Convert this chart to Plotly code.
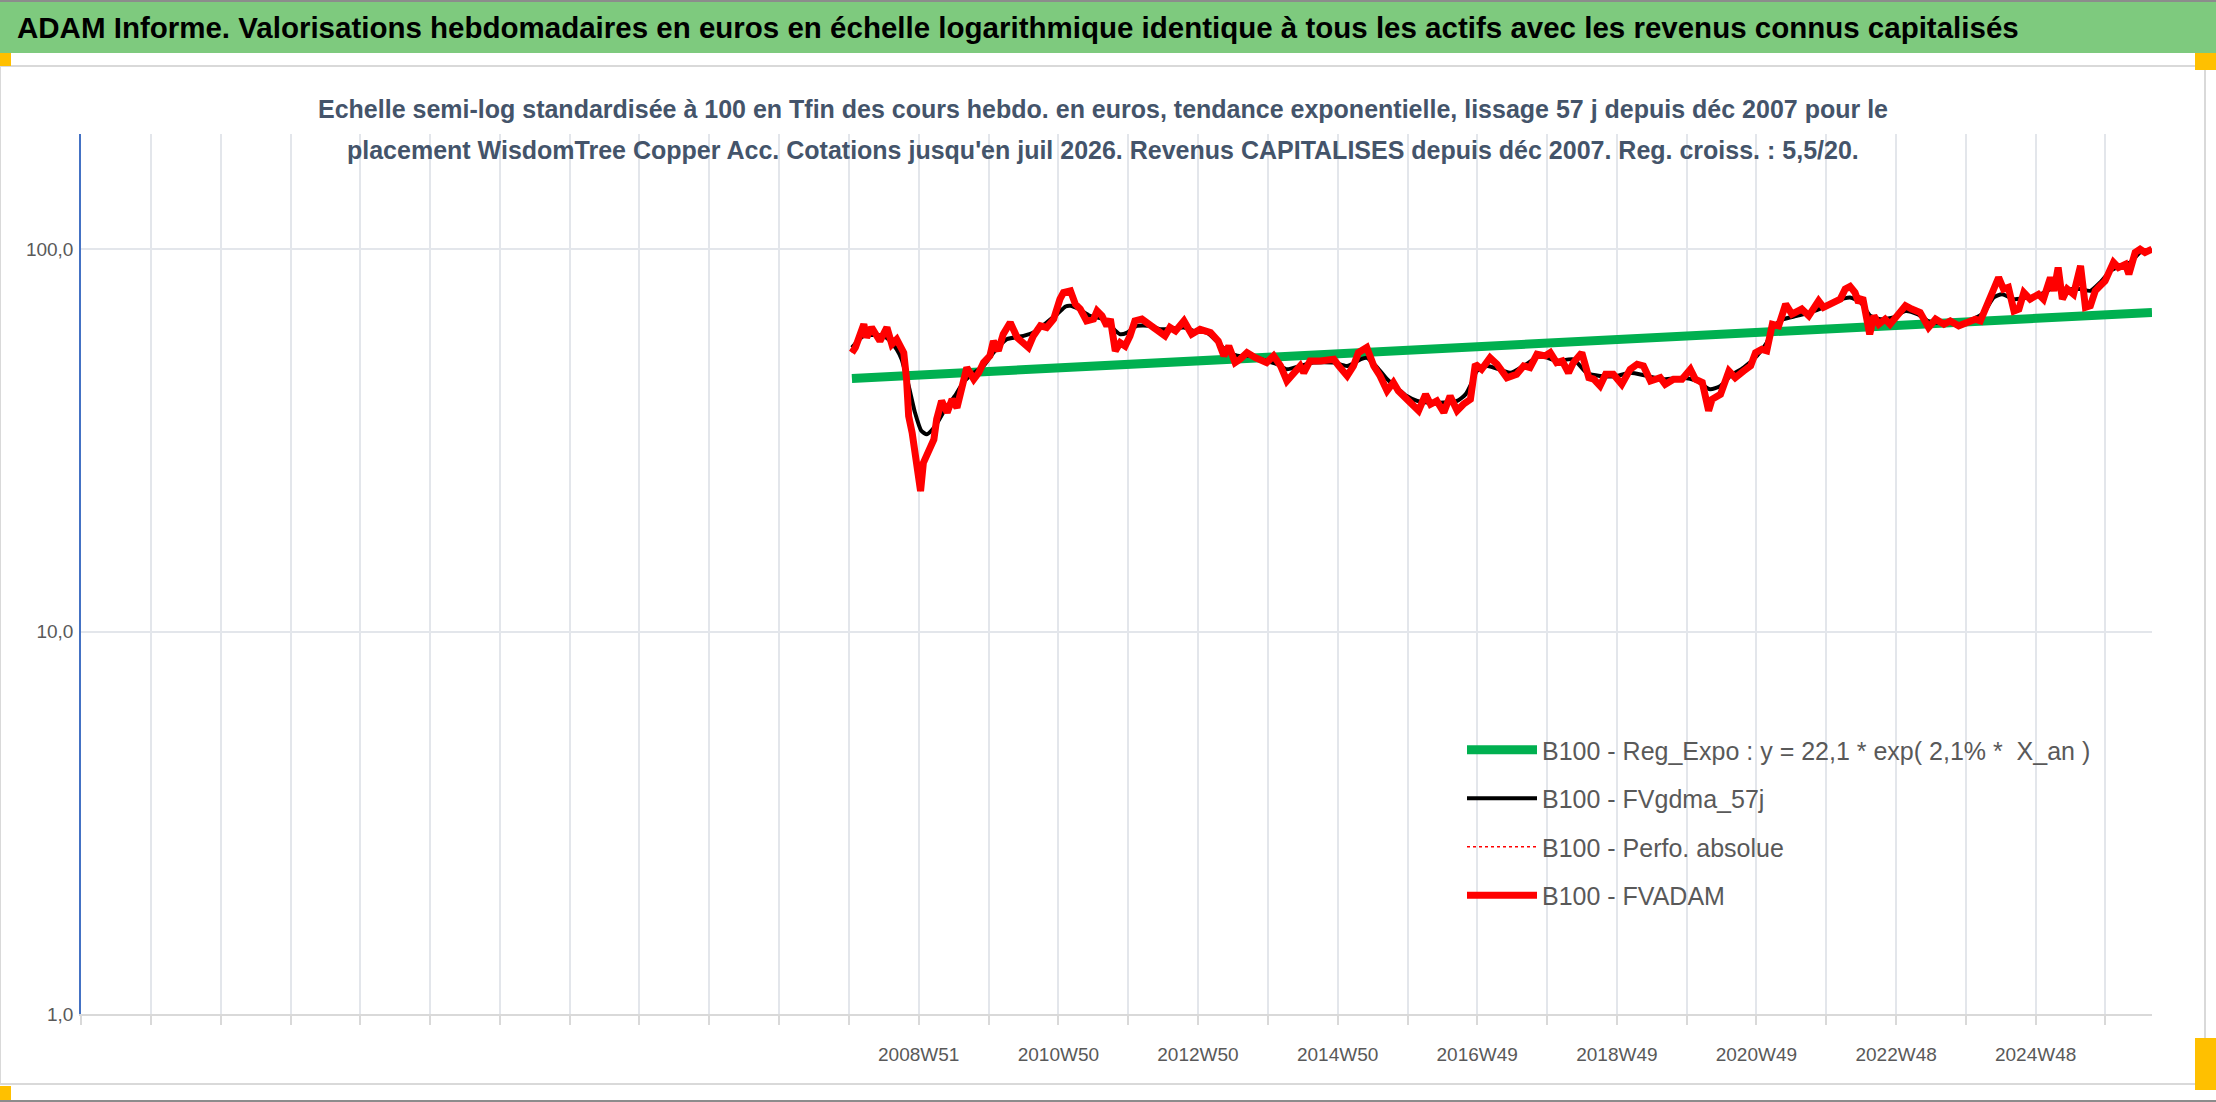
import datetime as dt
import plotly.graph_objects as go

# ---------------- texts ----------------
TITLE = ("ADAM Informe. Valorisations hebdomadaires en euros en échelle logarithmique "
         "identique à tous les actifs avec les revenus connus capitalisés")
SUBTITLE_1 = ("Echelle semi-log standardisée à 100 en Tfin des cours hebdo. en euros, tendance "
              "exponentielle, lissage 57 j depuis déc 2007 pour le")
SUBTITLE_2 = ("placement WisdomTree Copper Acc. Cotations jusqu'en juil 2026. Revenus CAPITALISES "
              "depuis déc 2007. Reg. croiss. : 5,5/20.")

NAME_REG = "B100 - Reg_Expo : y = 22,1 * exp( 2,1% *\u00a0 X_an )"
NAME_SMOOTH = "B100 - FVgdma_57j"
NAME_PERF = "B100 - Perfo. absolue"
NAME_FVADAM = "B100 - FVADAM"

# ---------------- axis labels ----------------
TICK_LABELS = ["2008W51", "2010W50", "2012W50", "2014W50", "2016W49",
               "2018W49", "2020W49", "2022W48", "2024W48"]
Y_TICKS = [1, 10, 100]
Y_TICK_LABELS = ["1,0", "10,0", "100,0"]

# ---------------- series (decimal years, values) ----------------
FVADAM_YEAR = [
    2008.00, 2008.05, 2008.17, 2008.21, 2008.28, 2008.40, 2008.50, 2008.57, 2008.64, 2008.69,
    2008.74, 2008.78, 2008.81, 2008.86, 2008.93, 2008.98, 2009.02, 2009.12, 2009.17, 2009.21,
    2009.28, 2009.36, 2009.43, 2009.50, 2009.57, 2009.64, 2009.74, 2009.81, 2009.88, 2009.97,
    2010.02, 2010.09, 2010.16, 2010.26, 2010.36, 2010.45, 2010.52, 2010.59, 2010.69, 2010.78,
    2010.88, 2010.97, 2011.02, 2011.12, 2011.19, 2011.26, 2011.35, 2011.45, 2011.50, 2011.57,
    2011.64, 2011.69, 2011.76, 2011.83, 2011.90, 2011.97, 2012.04, 2012.14, 2012.21, 2012.31,
    2012.40, 2012.47, 2012.54, 2012.62, 2012.74, 2012.85, 2012.97, 2013.12, 2013.23, 2013.31,
    2013.38, 2013.47, 2013.54, 2013.64, 2013.76, 2013.92, 2014.02, 2014.12, 2014.21, 2014.31,
    2014.40, 2014.45, 2014.54, 2014.69, 2014.88, 2014.95, 2015.07, 2015.16, 2015.23, 2015.35,
    2015.45, 2015.54, 2015.64, 2015.73, 2015.80, 2015.90, 2016.02, 2016.09, 2016.19, 2016.26,
    2016.35, 2016.45, 2016.54, 2016.64, 2016.73, 2016.83, 2016.90, 2016.99, 2017.11, 2017.21,
    2017.35, 2017.49, 2017.59, 2017.68, 2017.78, 2017.90, 2017.97, 2018.06, 2018.14, 2018.23,
    2018.30, 2018.42, 2018.52, 2018.59, 2018.68, 2018.76, 2018.87, 2018.99, 2019.11, 2019.21,
    2019.30, 2019.40, 2019.54, 2019.61, 2019.73, 2019.85, 2019.97, 2020.04, 2020.14, 2020.18,
    2020.23, 2020.28, 2020.40, 2020.52, 2020.61, 2020.73, 2020.83, 2020.90, 2020.99, 2021.06,
    2021.14, 2021.23, 2021.33, 2021.42, 2021.56, 2021.66, 2021.80, 2021.87, 2021.97, 2022.11,
    2022.18, 2022.25, 2022.32, 2022.37, 2022.43, 2022.49, 2022.53, 2022.59, 2022.66, 2022.75,
    2022.82, 2022.92, 2023.04, 2023.13, 2023.25, 2023.37, 2023.47, 2023.59, 2023.68, 2023.80,
    2023.92, 2024.04, 2024.11, 2024.20, 2024.30, 2024.37, 2024.44, 2024.51, 2024.59, 2024.66,
    2024.73, 2024.82, 2024.94, 2025.01, 2025.11, 2025.16, 2025.22, 2025.28, 2025.35, 2025.44,
    2025.54, 2025.61, 2025.68, 2025.75, 2025.82, 2025.89, 2026.01, 2026.08, 2026.18, 2026.23,
    2026.32, 2026.39, 2026.46, 2026.56,
]
FVADAM = [
    53.6, 55.3, 63.6, 58.7, 62.4, 57.5, 62.4, 56.4, 58.1, 55.3,
    53.6, 45.7, 36.6, 33.1, 27.1, 23.3, 27.6, 30.0, 31.8, 35.9,
    40.1, 37.4, 40.5, 38.5, 43.9, 49.0, 45.7, 47.5, 50.5, 52.6,
    57.5, 54.2, 59.9, 64.3, 58.7, 56.9, 55.3, 59.3, 63.0, 62.4,
    65.6, 74.0, 77.0, 77.8, 71.8, 69.7, 64.9, 65.6, 68.9, 66.9,
    63.0, 65.6, 54.2, 56.9, 55.8, 59.3, 64.9, 65.6, 64.3, 62.4,
    60.5, 59.3, 62.4, 61.1, 64.9, 59.9, 61.7, 60.5, 57.5, 52.6,
    55.8, 50.5, 51.5, 53.6, 52.0, 50.5, 52.6, 49.5, 45.2, 47.5,
    49.5, 47.5, 51.0, 51.0, 51.5, 49.5, 46.6, 49.5, 53.6, 55.3,
    49.5, 46.6, 42.6, 44.8, 42.6, 40.9, 38.9, 37.8, 41.7, 39.3,
    40.1, 37.4, 41.3, 37.8, 39.3, 40.5, 50.0, 48.5, 52.0, 50.0,
    46.1, 47.1, 49.5, 49.0, 53.1, 52.6, 53.6, 50.5, 51.0, 47.5,
    50.5, 53.6, 46.1, 45.7, 43.9, 47.1, 47.1, 44.3, 48.5, 50.0,
    49.5, 45.2, 46.1, 44.3, 45.7, 45.7, 48.5, 45.7, 44.8, 42.2,
    37.8, 40.5, 41.7, 48.0, 46.1, 48.0, 49.5, 53.6, 54.7, 54.2,
    63.6, 63.0, 71.8, 67.6, 69.7, 66.9, 73.2, 70.4, 71.8, 74.0,
    78.6, 79.9, 77.0, 72.5, 74.7, 63.0, 59.9, 66.9, 63.6, 65.6,
    63.6, 66.9, 71.1, 69.7, 68.3, 62.4, 65.6, 63.6, 64.9, 63.0,
    64.3, 65.6, 64.9, 71.1, 80.2, 84.3, 78.6, 79.4, 68.9, 69.7,
    77.0, 74.0, 76.2, 74.0, 84.3, 77.8, 89.5, 74.0, 78.6, 76.2,
    90.4, 70.4, 71.1, 77.8, 80.2, 82.6, 92.3, 89.5, 91.3, 86.0,
    98.0, 99.9, 98.0, 100.0,
]
SMOOTH_YEAR = [
    2008.00, 2008.17, 2008.45, 2008.52, 2008.64, 2008.71, 2008.81, 2008.90, 2008.99, 2009.07,
    2009.19, 2009.33, 2009.47, 2009.59, 2009.74, 2009.88, 2010.02, 2010.21, 2010.45, 2010.59,
    2010.78, 2010.93, 2011.05, 2011.12, 2011.24, 2011.40, 2011.59, 2011.74, 2011.83, 2011.93,
    2012.07, 2012.26, 2012.40, 2012.74, 2012.88, 2013.07, 2013.23, 2013.35, 2013.50, 2013.69,
    2013.92, 2014.07, 2014.21, 2014.40, 2014.59, 2014.88, 2015.07, 2015.26, 2015.35, 2015.50,
    2015.64, 2015.78, 2015.92, 2016.07, 2016.21, 2016.45, 2016.64, 2016.76, 2016.85, 2016.92,
    2017.07, 2017.40, 2017.59, 2017.83, 2018.06, 2018.30, 2018.49, 2018.68, 2018.92, 2019.11,
    2019.35, 2019.59, 2019.87, 2020.06, 2020.25, 2020.40, 2020.54, 2020.73, 2020.92, 2021.06,
    2021.16, 2021.30, 2021.49, 2021.68, 2021.87, 2022.06, 2022.25, 2022.40, 2022.54, 2022.68,
    2022.87, 2023.04, 2023.21, 2023.40, 2023.63, 2023.82, 2024.01, 2024.16, 2024.30, 2024.42,
    2024.59, 2024.78, 2024.97, 2025.16, 2025.35, 2025.54, 2025.68, 2025.82, 2025.97, 2026.11,
    2026.25, 2026.39, 2026.56,
]
SMOOTH = [
    55.3, 59.3, 59.3, 58.1, 54.7, 51.5, 43.9, 37.4, 33.5, 32.8,
    34.5, 38.1, 41.3, 44.8, 47.5, 49.5, 53.6, 58.1, 59.3, 60.5,
    64.3, 67.6, 70.8, 71.1, 69.7, 66.9, 65.6, 61.7, 59.9, 60.5,
    63.0, 63.0, 61.7, 62.4, 61.1, 60.5, 56.9, 54.2, 52.6, 52.6,
    51.0, 50.0, 48.5, 49.5, 50.5, 50.5, 49.5, 51.5, 52.0, 49.0,
    45.7, 43.4, 41.3, 40.1, 39.7, 39.7, 40.1, 41.7, 44.8, 48.0,
    49.5, 47.5, 49.5, 52.6, 51.0, 51.5, 47.5, 46.6, 46.6, 47.5,
    46.6, 45.7, 46.1, 45.2, 43.0, 43.9, 46.6, 49.0, 52.6, 56.9,
    63.0, 65.6, 66.9, 68.3, 70.4, 73.2, 74.7, 72.5, 66.9, 65.6,
    66.3, 68.9, 67.6, 64.3, 64.3, 63.6, 65.6, 68.3, 74.7, 76.2,
    74.0, 74.7, 76.2, 79.4, 78.6, 78.6, 77.8, 81.8, 87.8, 90.4,
    92.3, 98.0, 99.0,
]
REG_YEAR = [2008.00, 2026.56]
REG = [45.9, 68.3]

# ---------------- helpers ----------------
def iso_monday(label):
    y, w = label.split("W")
    return dt.date.fromisocalendar(int(y), int(w), 1)


def dec_year(d):
    s = dt.date(d.year, 1, 1)
    e = dt.date(d.year + 1, 1, 1)
    return d.year + (d - s).days / (e - s).days


anchor = iso_monday(TICK_LABELS[0])
grid_dates = [anchor + dt.timedelta(weeks=52 * k) for k in range(-12, 18)]
tickvals = [dec_year(d) for d in grid_dates]
ticktext = []
for d in grid_dates:
    iy, iw, _ = d.isocalendar()
    lab = f"{iy}W{iw:02d}"
    ticktext.append(lab if lab in TICK_LABELS else "")

W, H = 2216, 1102
ML, MR, MT, MB = 81, 64, 134, 88
PW, PH = W - ML - MR, H - MT - MB


def px(x):
    return (x - ML) / PW


def py(y):
    return (H - MB - y) / PH


FONT = "Liberation Sans, Arial, sans-serif"
GRID = "#E3E6EB"
TXT = "#595959"

fig = go.Figure()
fig.add_trace(go.Scatter(x=REG_YEAR, y=REG, mode="lines", name=NAME_REG,
                         line=dict(color="#00B050", width=9), legendgroup="a"))
fig.add_trace(go.Scatter(x=SMOOTH_YEAR, y=SMOOTH, mode="lines", name=NAME_SMOOTH,
                         line=dict(color="#000000", width=4, shape="spline", smoothing=0.6),
                         legendgroup="b"))
fig.add_trace(go.Scatter(x=FVADAM_YEAR, y=FVADAM, mode="lines", name=NAME_PERF,
                         line=dict(color="#FF0000", width=1.5, dash="dot"), legendgroup="c"))
fig.add_trace(go.Scatter(x=FVADAM_YEAR, y=FVADAM, mode="lines", name=NAME_FVADAM,
                         line=dict(color="#FF0000", width=7), legendgroup="d"))

shapes = [
    # outer frame of chart area
    dict(type="rect", xref="paper", yref="paper", x0=px(0), x1=px(2205), y0=py(1084), y1=py(66),
         line=dict(color="#D9D9D9", width=2), fillcolor="rgba(0,0,0,0)", layer="below"),
    # green banner
    dict(type="rect", xref="paper", yref="paper", x0=px(0), x1=px(W), y0=py(53), y1=py(1),
         line=dict(width=0), fillcolor="#7ECA7E", layer="below"),
    dict(type="line", xref="paper", yref="paper", x0=px(0), x1=px(W), y0=py(1), y1=py(1),
         line=dict(color="#8C8C8C", width=2)),
    dict(type="line", xref="paper", yref="paper", x0=px(0), x1=px(W), y0=py(1101), y1=py(1101),
         line=dict(color="#8C8C8C", width=2)),
    # selection handles
    dict(type="rect", xref="paper", yref="paper", x0=px(0), x1=px(11), y0=py(66), y1=py(53),
         line=dict(width=0), fillcolor="#FFC000"),
    dict(type="rect", xref="paper", yref="paper", x0=px(2195), x1=px(W), y0=py(70), y1=py(53),
         line=dict(width=0), fillcolor="#FFC000"),
    dict(type="rect", xref="paper", yref="paper", x0=px(0), x1=px(11), y0=py(1100), y1=py(1086),
         line=dict(width=0), fillcolor="#FFC000"),
    dict(type="rect", xref="paper", yref="paper", x0=px(2195), x1=px(W), y0=py(1090), y1=py(1038),
         line=dict(width=0), fillcolor="#FFC000"),
]

annotations = [
    dict(text="<b>" + TITLE + "</b>", xref="paper", yref="paper", x=px(15), y=py(27),
         xanchor="left", yanchor="middle", showarrow=False,
         font=dict(family=FONT, size=29.5, color="#000000")),
    dict(text="<b>" + SUBTITLE_1 + "</b>", xref="paper", yref="paper", x=px(1103), y=py(109),
         xanchor="center", yanchor="middle", showarrow=False,
         font=dict(family=FONT, size=25, color="#44546A")),
    dict(text="<b>" + SUBTITLE_2 + "</b>", xref="paper", yref="paper", x=px(1103), y=py(150),
         xanchor="center", yanchor="middle", showarrow=False,
         font=dict(family=FONT, size=25, color="#44546A")),
]

fig.update_layout(
    width=W, height=H, autosize=False,
    margin=dict(l=ML, r=MR, t=MT, b=MB, pad=0),
    paper_bgcolor="#FFFFFF", plot_bgcolor="#FFFFFF",
    font=dict(family=FONT, color=TXT),
    showlegend=True,
    legend=dict(x=px(1462), y=py(727), xanchor="left", yanchor="top",
                bgcolor="rgba(255,255,255,0)", font=dict(family=FONT, size=25, color=TXT),
                traceorder="grouped", tracegroupgap=13, itemwidth=70),
    shapes=shapes, annotations=annotations,
    xaxis=dict(range=[tickvals[0], max(FVADAM_YEAR)], tickmode="array", tickvals=tickvals,
               ticktext=ticktext, showgrid=True, gridcolor=GRID, gridwidth=1.5,
               showline=True, linecolor="#D9D9D9", linewidth=2, ticks="outside",
               ticklen=9, tickcolor="#D9D9D9", tickwidth=1.5, zeroline=False,
               tickfont=dict(family=FONT, size=19, color=TXT), ticklabelstandoff=13),
    yaxis=dict(type="log", range=[0, 2.301], tickmode="array", tickvals=Y_TICKS,
               ticktext=Y_TICK_LABELS, showgrid=True, gridcolor=GRID, gridwidth=1.5,
               showline=True, linecolor="#4472C4", linewidth=1.5, ticks="",
               zeroline=False, tickfont=dict(family=FONT, size=19, color=TXT),
               ticklabelstandoff=2),
)

fig.write_html("out.html", config={"displayModeBar": False},
               post_script="document.body.style.margin='0';document.body.style.overflow='hidden';")
